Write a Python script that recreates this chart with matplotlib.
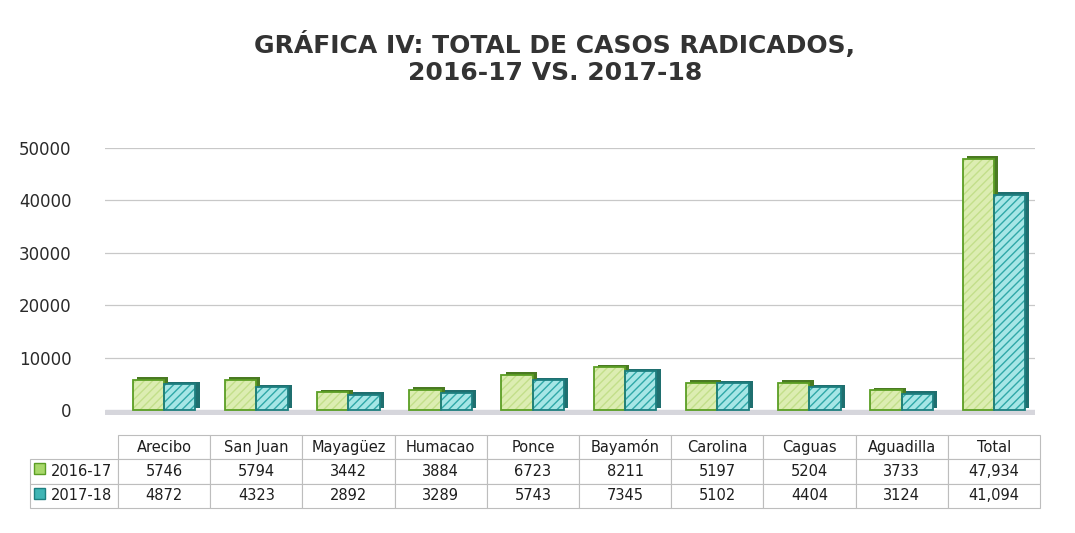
# Gráfica IV: total de casos radicados, 2016-17 vs 2017-18
import numpy as np
import matplotlib.pyplot as plt
from matplotlib.patches import Rectangle

regiones = ['Arecibo', 'San Juan', 'Mayagüez', 'Humacao', 'Ponce',
            'Bayamón', 'Carolina', 'Caguas', 'Aguadilla', 'Total']
casos_1617 = [5746, 5794, 3442, 3884, 6723, 8211, 5197, 5204, 3733, 47934]
casos_1718 = [4872, 4323, 2892, 3289, 5743, 7345, 5102, 4404, 3124, 41094]
etiquetas_1617 = ['5746', '5794', '3442', '3884', '6723', '8211', '5197', '5204', '3733', '47,934']
etiquetas_1718 = ['4872', '4323', '2892', '3289', '5743', '7345', '5102', '4404', '3124', '41,094']
series = ['2016-17', '2017-18']
yticks = [0, 10000, 20000, 30000, 40000, 50000]

fig = plt.figure(figsize=(10.75, 5.33), dpi=100)
fig.patch.set_facecolor('white')
ax = fig.add_axes([105/1075, 1 - 415.2/533, 930/1075, 267.2/533])

x = np.arange(len(regiones))
w = 0.34
dx, dy = 0.045, 450  # profundidad falsa para efecto 3D

# piso gris
ax.axhspan(-700, 0, color='#d6d6dc', zorder=0)

# 2016-17 (verde claro)
ax.bar(x - w/2 + dx, casos_1617, w, bottom=dy, color='#4a7a22', zorder=2)
ax.bar(x - w/2, casos_1617, w, color='#dcedb2', edgecolor='#c3df8a',
       hatch='////', linewidth=0, zorder=3)
ax.bar(x - w/2, casos_1617, w, facecolor='none', edgecolor='#5b9e24',
       linewidth=1.3, zorder=4)

# 2017-18 (turquesa rayado)
ax.bar(x + w/2 + dx, casos_1718, w, bottom=dy, color='#1f6f6f', zorder=2)
ax.bar(x + w/2, casos_1718, w, color='#a6e6e6', edgecolor='#2fa8a8',
       hatch='////', linewidth=0, zorder=3)
ax.bar(x + w/2, casos_1718, w, facecolor='none', edgecolor='#1d7f80',
       linewidth=1.3, zorder=4)

ax.set_xlim(-0.64, 9.446)
ax.set_ylim(-1000, 50000)
ax.set_yticks(yticks)
ax.set_yticklabels([str(t) for t in yticks], fontsize=12, color='#2a2a2a')
ax.tick_params(axis='y', length=0, pad=24)
ax.set_xticks([])
for s in ax.spines.values():
    s.set_visible(False)
for t in yticks[1:]:
    ax.axhline(t, color='#c8c8c8', linewidth=0.9, zorder=1)

# tabla de datos
celdas = [[''] + regiones,
          [series[0]] + etiquetas_1617,
          [series[1]] + etiquetas_1718]
anchos = [88] + [92.2] * len(regiones)
tabla = ax.table(cellText=celdas, colWidths=anchos, cellLoc='center',
                 bbox=[-0.0806, -0.347, 1.086, 0.273])
tabla.auto_set_font_size(False)
for (r, c), cell in tabla.get_celld().items():
    cell.set_edgecolor('#bdbdbd')
    cell.set_linewidth(0.8)
    cell.get_text().set_fontsize(10.5)
    cell.get_text().set_color('#1e1e1e')
    if r == 0 and c == 0:
        cell.visible_edges = ''
    if c == 0 and r > 0:
        cell.get_text().set_ha('right')
        cell.PAD = 0.07

# claves de leyenda en la tabla
fig.patches.append(Rectangle((34/1075, 1 - 474/533), 11/1075, 11/533,
                             transform=fig.transFigure, facecolor='#a8d86a',
                             edgecolor='#5b9e24', linewidth=1))
fig.patches.append(Rectangle((34/1075, 1 - 499/533), 11/1075, 11/533,
                             transform=fig.transFigure, facecolor='#3fb5b5',
                             edgecolor='#1d7f80', linewidth=1))

fig.text(0.516, 1 - 45/533, 'GRÁFICA IV: TOTAL DE CASOS RADICADOS,',
         ha='center', va='center', fontsize=18, fontweight='bold', color='#333333')
fig.text(0.516, 1 - 73/533, '2016-17 VS. 2017-18',
         ha='center', va='center', fontsize=18, fontweight='bold', color='#333333')

fig.savefig('out.png', dpi=100)
